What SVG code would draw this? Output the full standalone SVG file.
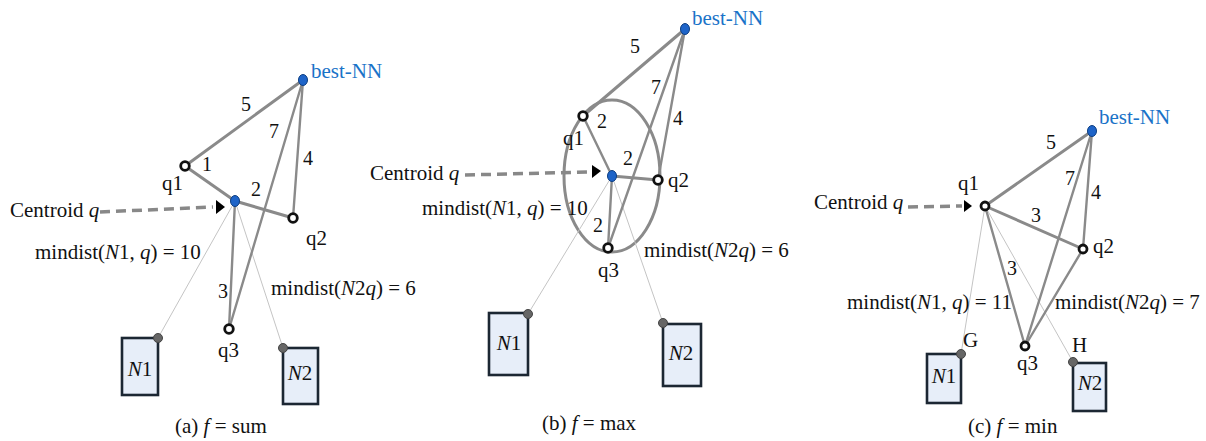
<svg xmlns="http://www.w3.org/2000/svg" width="1206" height="441" viewBox="0 0 1206 441" font-family="'Liberation Serif', 'Times New Roman', serif">
<style>
text{font-family:'Liberation Serif','Times New Roman',serif;font-size:21px;fill:#111}
.lbl{font-size:20px}
.blue{fill:#1a73c8}
.it{font-style:italic}
.e{stroke:#8a8a8a;stroke-width:3;fill:none;stroke-linecap:round}
.e2{stroke:#8a8a8a;stroke-width:2.4;fill:none;stroke-linecap:round}
.t{stroke:#c4c4c4;stroke-width:1;fill:none}
.dash{stroke:#888;stroke-width:3.5;stroke-dasharray:10 6;fill:none}
.q{fill:#fff;stroke:#111;stroke-width:2.8}
.b{fill:#1e64c8;stroke:#0e3f82;stroke-width:1}
.box{fill:#e7eef9;stroke:#1c2733;stroke-width:2.6}
.gd{fill:#666;stroke:#444;stroke-width:1}
.ah{fill:#000}
</style>

<!-- Panel (a) -->
<g id="connectors-a">
<line class="t" x1="235" y1="201" x2="158" y2="338"/>
<line class="t" x1="235" y1="201" x2="283" y2="348"/>
<line class="e" x1="303" y1="80" x2="185" y2="166"/>
<line class="e" x1="185" y1="166" x2="235" y2="201"/>
<line class="e" x1="235" y1="201" x2="293" y2="218"/>
<line class="e2" x1="303" y1="80" x2="293" y2="218"/>
<line class="e2" x1="303" y1="80" x2="229" y2="329"/>
<line class="e2" x1="235" y1="201" x2="229" y2="329"/>
<line class="dash" x1="100" y1="212" x2="213" y2="207"/>
<path class="ah" d="M216,200 L225,207 L216,214 Z"/>
</g>
<g id="a-bestNN"><ellipse class="b" cx="303" cy="80" rx="4.5" ry="5.5"/><text class="blue" x="311" y="78">best-NN</text></g>
<g id="a-q1"><circle class="q" cx="185" cy="166" r="4.3"/><text x="162" y="190">q1</text></g>
<g id="a-centroid"><ellipse class="b" cx="235" cy="201" rx="4.5" ry="5.5"/></g>
<g id="a-q2"><circle class="q" cx="293" cy="218" r="4.3"/><text x="306" y="245">q2</text></g>
<g id="a-q3"><circle class="q" cx="229" cy="329" r="4.3"/><text x="218" y="357">q3</text></g>
<g id="a-N1"><rect class="box" x="122" y="338" width="36" height="57"/><circle class="gd" cx="158" cy="338" r="4.5"/><text class="it" x="140" y="376" text-anchor="middle">N<tspan font-style="normal">1</tspan></text></g>
<g id="a-N2"><rect class="box" x="283" y="348" width="35" height="56"/><circle class="gd" cx="283" cy="348" r="4.5"/><text class="it" x="300" y="380" text-anchor="middle">N<tspan font-style="normal">2</tspan></text></g>
<g id="a-labels">
<text class="lbl" x="241" y="111">5</text>
<text class="lbl" x="269" y="138">7</text>
<text class="lbl" x="303" y="165">4</text>
<text class="lbl" x="202" y="171">1</text>
<text class="lbl" x="251" y="196">2</text>
<text class="lbl" x="218" y="298">3</text>
<text x="10" y="217">Centroid <tspan class="it">q</tspan></text>
<text x="35" y="259">mindist(<tspan class="it">N</tspan>1, <tspan class="it">q</tspan>) = 10</text>
<text x="271" y="295">mindist(<tspan class="it">N</tspan>2<tspan class="it">q</tspan>) = 6</text>
<text x="175" y="433">(a) <tspan class="it">f</tspan> = sum</text>
</g>

<!-- Panel (b) -->
<g id="connectors-b">
<ellipse cx="612" cy="176" rx="48" ry="76" fill="none" stroke="#8a8a8a" stroke-width="3"/>
<line class="t" x1="612" y1="176" x2="528" y2="314"/>
<line class="t" x1="612" y1="176" x2="663" y2="323"/>
<line class="e" x1="685" y1="29" x2="583" y2="116"/>
<line class="e2" x1="583" y1="116" x2="612" y2="176"/>
<line class="e" x1="612" y1="176" x2="658" y2="180"/>
<line class="e2" x1="685" y1="29" x2="658" y2="180"/>
<line class="e2" x1="685" y1="29" x2="608" y2="248"/>
<line class="e2" x1="612" y1="176" x2="608" y2="248"/>
<line class="dash" x1="465" y1="175" x2="590" y2="172"/>
<path class="ah" d="M592,165 L601,171 L592,178 Z"/>
</g>
<g id="b-bestNN"><ellipse class="b" cx="685" cy="29" rx="4.5" ry="5.5"/><text class="blue" x="692" y="25">best-NN</text></g>
<g id="b-q1"><circle class="q" cx="583" cy="116" r="4.3"/><text x="563" y="145">q1</text></g>
<g id="b-centroid"><ellipse class="b" cx="612" cy="176" rx="4.5" ry="5.5"/></g>
<g id="b-q2"><circle class="q" cx="658" cy="180" r="4.3"/><text x="668" y="187">q2</text></g>
<g id="b-q3"><circle class="q" cx="608" cy="248" r="4.3"/><text x="598" y="277">q3</text></g>
<g id="b-N1"><rect class="box" x="489" y="313" width="39" height="62"/><circle class="gd" cx="528" cy="314" r="4.5"/><text class="it" x="509" y="350" text-anchor="middle">N<tspan font-style="normal">1</tspan></text></g>
<g id="b-N2"><rect class="box" x="663" y="324" width="38" height="62"/><circle class="gd" cx="663" cy="323" r="4.5"/><text class="it" x="681" y="360" text-anchor="middle">N<tspan font-style="normal">2</tspan></text></g>
<g id="b-labels">
<text class="lbl" x="630" y="53">5</text>
<text class="lbl" x="651" y="94">7</text>
<text class="lbl" x="673" y="125">4</text>
<text class="lbl" x="597" y="128">2</text>
<text class="lbl" x="623" y="165">2</text>
<text class="lbl" x="593" y="232">2</text>
<text x="370" y="180">Centroid <tspan class="it">q</tspan></text>
<text x="422" y="215">mindist(<tspan class="it">N</tspan>1, <tspan class="it">q</tspan>) = 10</text>
<text x="644" y="257">mindist(<tspan class="it">N</tspan>2<tspan class="it">q</tspan>) = 6</text>
<text x="542" y="430">(b) <tspan class="it">f</tspan> = max</text>
</g>

<!-- Panel (c) -->
<g id="connectors-c">
<line class="t" x1="985" y1="206" x2="961" y2="354"/>
<line class="t" x1="985" y1="206" x2="1073" y2="362"/>
<line class="e" x1="1092" y1="131" x2="985" y2="206"/>
<line class="e" x1="985" y1="206" x2="1083" y2="249"/>
<line class="e2" x1="1092" y1="131" x2="1083" y2="249"/>
<line class="e2" x1="1092" y1="131" x2="1025" y2="346"/>
<line class="e2" x1="1083" y1="249" x2="1025" y2="346"/>
<line class="e2" x1="985" y1="206" x2="1025" y2="346"/>
<line class="dash" x1="908" y1="207" x2="962" y2="206"/>
<path class="ah" d="M964,200 L972,206 L964,212 Z"/>
</g>
<g id="c-bestNN"><ellipse class="b" cx="1092" cy="131" rx="4.5" ry="5.5"/><text class="blue" x="1099" y="124">best-NN</text></g>
<g id="c-q1"><circle class="q" cx="985" cy="206" r="4"/><text x="958" y="190">q1</text></g>
<g id="c-q2"><circle class="q" cx="1083" cy="249" r="4"/><text x="1093" y="253">q2</text></g>
<g id="c-q3"><circle class="q" cx="1025" cy="346" r="4"/><text x="1017" y="370">q3</text></g>
<g id="c-N1"><rect class="box" x="927" y="354" width="34" height="49"/><circle class="gd" cx="961" cy="354" r="4.5"/><text class="it" x="944" y="383" text-anchor="middle">N<tspan font-style="normal">1</tspan></text></g>
<g id="c-N2"><rect class="box" x="1073" y="363" width="33" height="48"/><circle class="gd" cx="1073" cy="362" r="4.5"/><text class="it" x="1090" y="390" text-anchor="middle">N<tspan font-style="normal">2</tspan></text></g>
<g id="c-labels">
<text class="lbl" x="1046" y="149">5</text>
<text class="lbl" x="1065" y="185">7</text>
<text class="lbl" x="1091" y="199">4</text>
<text class="lbl" x="1031" y="222">3</text>
<text class="lbl" x="1007" y="275">3</text>
<text x="963" y="347">G</text>
<text x="1072" y="352">H</text>
<text x="814" y="209">Centroid <tspan class="it">q</tspan></text>
<text x="847" y="309">mindist(<tspan class="it">N</tspan>1, <tspan class="it">q</tspan>) = 11</text>
<text x="1055" y="309">mindist(<tspan class="it">N</tspan>2<tspan class="it">q</tspan>) = 7</text>
<text x="968" y="433">(c) <tspan class="it">f</tspan> = min</text>
</g>
</svg>
